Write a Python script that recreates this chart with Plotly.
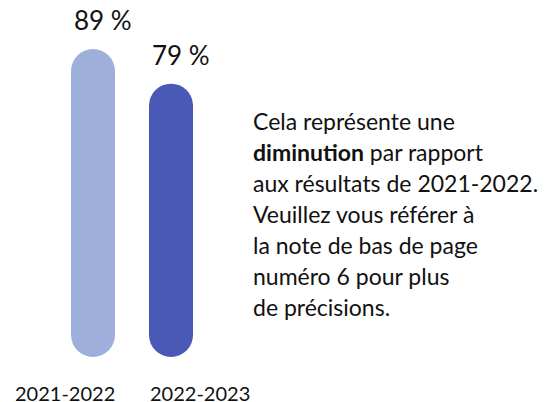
import plotly.graph_objects as go

categories = ["2021-2022", "2022-2023"]
values = [89, 79]
value_labels = ["89 %", "79 %"]
colors = ["#9EAFDC", "#4A58B6"]
note_lines = [
    "Cela représente une",
    "<b>diminution</b> par rapport",
    "aux résultats de 2021-2022.",
    "Veuillez vous référer à",
    "la note de bas de page",
    "numéro 6 pour plus",
    "de précisions.",
]

FONT = "Lato, Noto Sans, sans-serif"
TXT = "#111111"

# figure geometry (page body adds an 8px offset)
W, H = 545, 394
PLOT_TOP, PLOT_H = 3, 346
PX_PER_X = 78.0
BAR_PX = 44
X0_PX = 85
px_per_unit = PLOT_H / 100.0
r_units = (BAR_PX / 2) / px_per_unit
bar_w = BAR_PX / PX_PER_X

xs = list(range(len(categories)))

fig = go.Figure()
# straight body of each bar
fig.add_trace(go.Bar(
    x=xs, y=[v - 2 * r_units for v in values], base=[r_units] * len(values),
    width=bar_w, marker=dict(color=colors, line=dict(width=0)),
    customdata=values, hovertemplate="%{customdata} %<extra></extra>",
    showlegend=False,
))
# rounded caps (top and bottom)
fig.add_trace(go.Scatter(
    x=xs + xs, y=[v - r_units for v in values] + [r_units] * len(values),
    mode="markers", hoverinfo="skip", showlegend=False,
    marker=dict(size=BAR_PX, color=colors + colors, line=dict(width=0)),
))

# value labels above bars
for x, v, t in zip(xs, values, value_labels):
    fig.add_annotation(x=x, y=v, text=t, xref="x", yref="y",
                       yanchor="bottom", yshift=11, xshift=10, showarrow=False,
                       font=dict(family=FONT, size=26, color=TXT))

def px_to_paper_x(px):
    return (px - 8) / W

def py_to_paper_y(py):
    return (PLOT_TOP + PLOT_H - (py - 8)) / PLOT_H

# category labels
cat_px = [65, 200]
for c, px in zip(categories, cat_px):
    fig.add_annotation(x=px_to_paper_x(px), y=py_to_paper_y(393), xref="paper", yref="paper",
                       text=c, showarrow=False, xanchor="center", yanchor="middle",
                       font=dict(family=FONT, size=20, color=TXT))

# note text
for i, line in enumerate(note_lines):
    fig.add_annotation(x=px_to_paper_x(251), y=py_to_paper_y(121 + 31 * i),
                       xref="paper", yref="paper", text=line, showarrow=False,
                       xanchor="left", yanchor="middle", align="left",
                       font=dict(family=FONT, size=23, color=TXT))

fig.update_layout(
    width=W, height=H,
    margin=dict(l=0, r=0, t=PLOT_TOP, b=H - PLOT_TOP - PLOT_H),
    barmode="overlay",
    paper_bgcolor="white", plot_bgcolor="white",
    xaxis=dict(range=[-X0_PX / PX_PER_X, (W - X0_PX) / PX_PER_X], visible=False, fixedrange=True),
    yaxis=dict(range=[0, 100], visible=False, fixedrange=True),
)

fig.write_html("out.html")
